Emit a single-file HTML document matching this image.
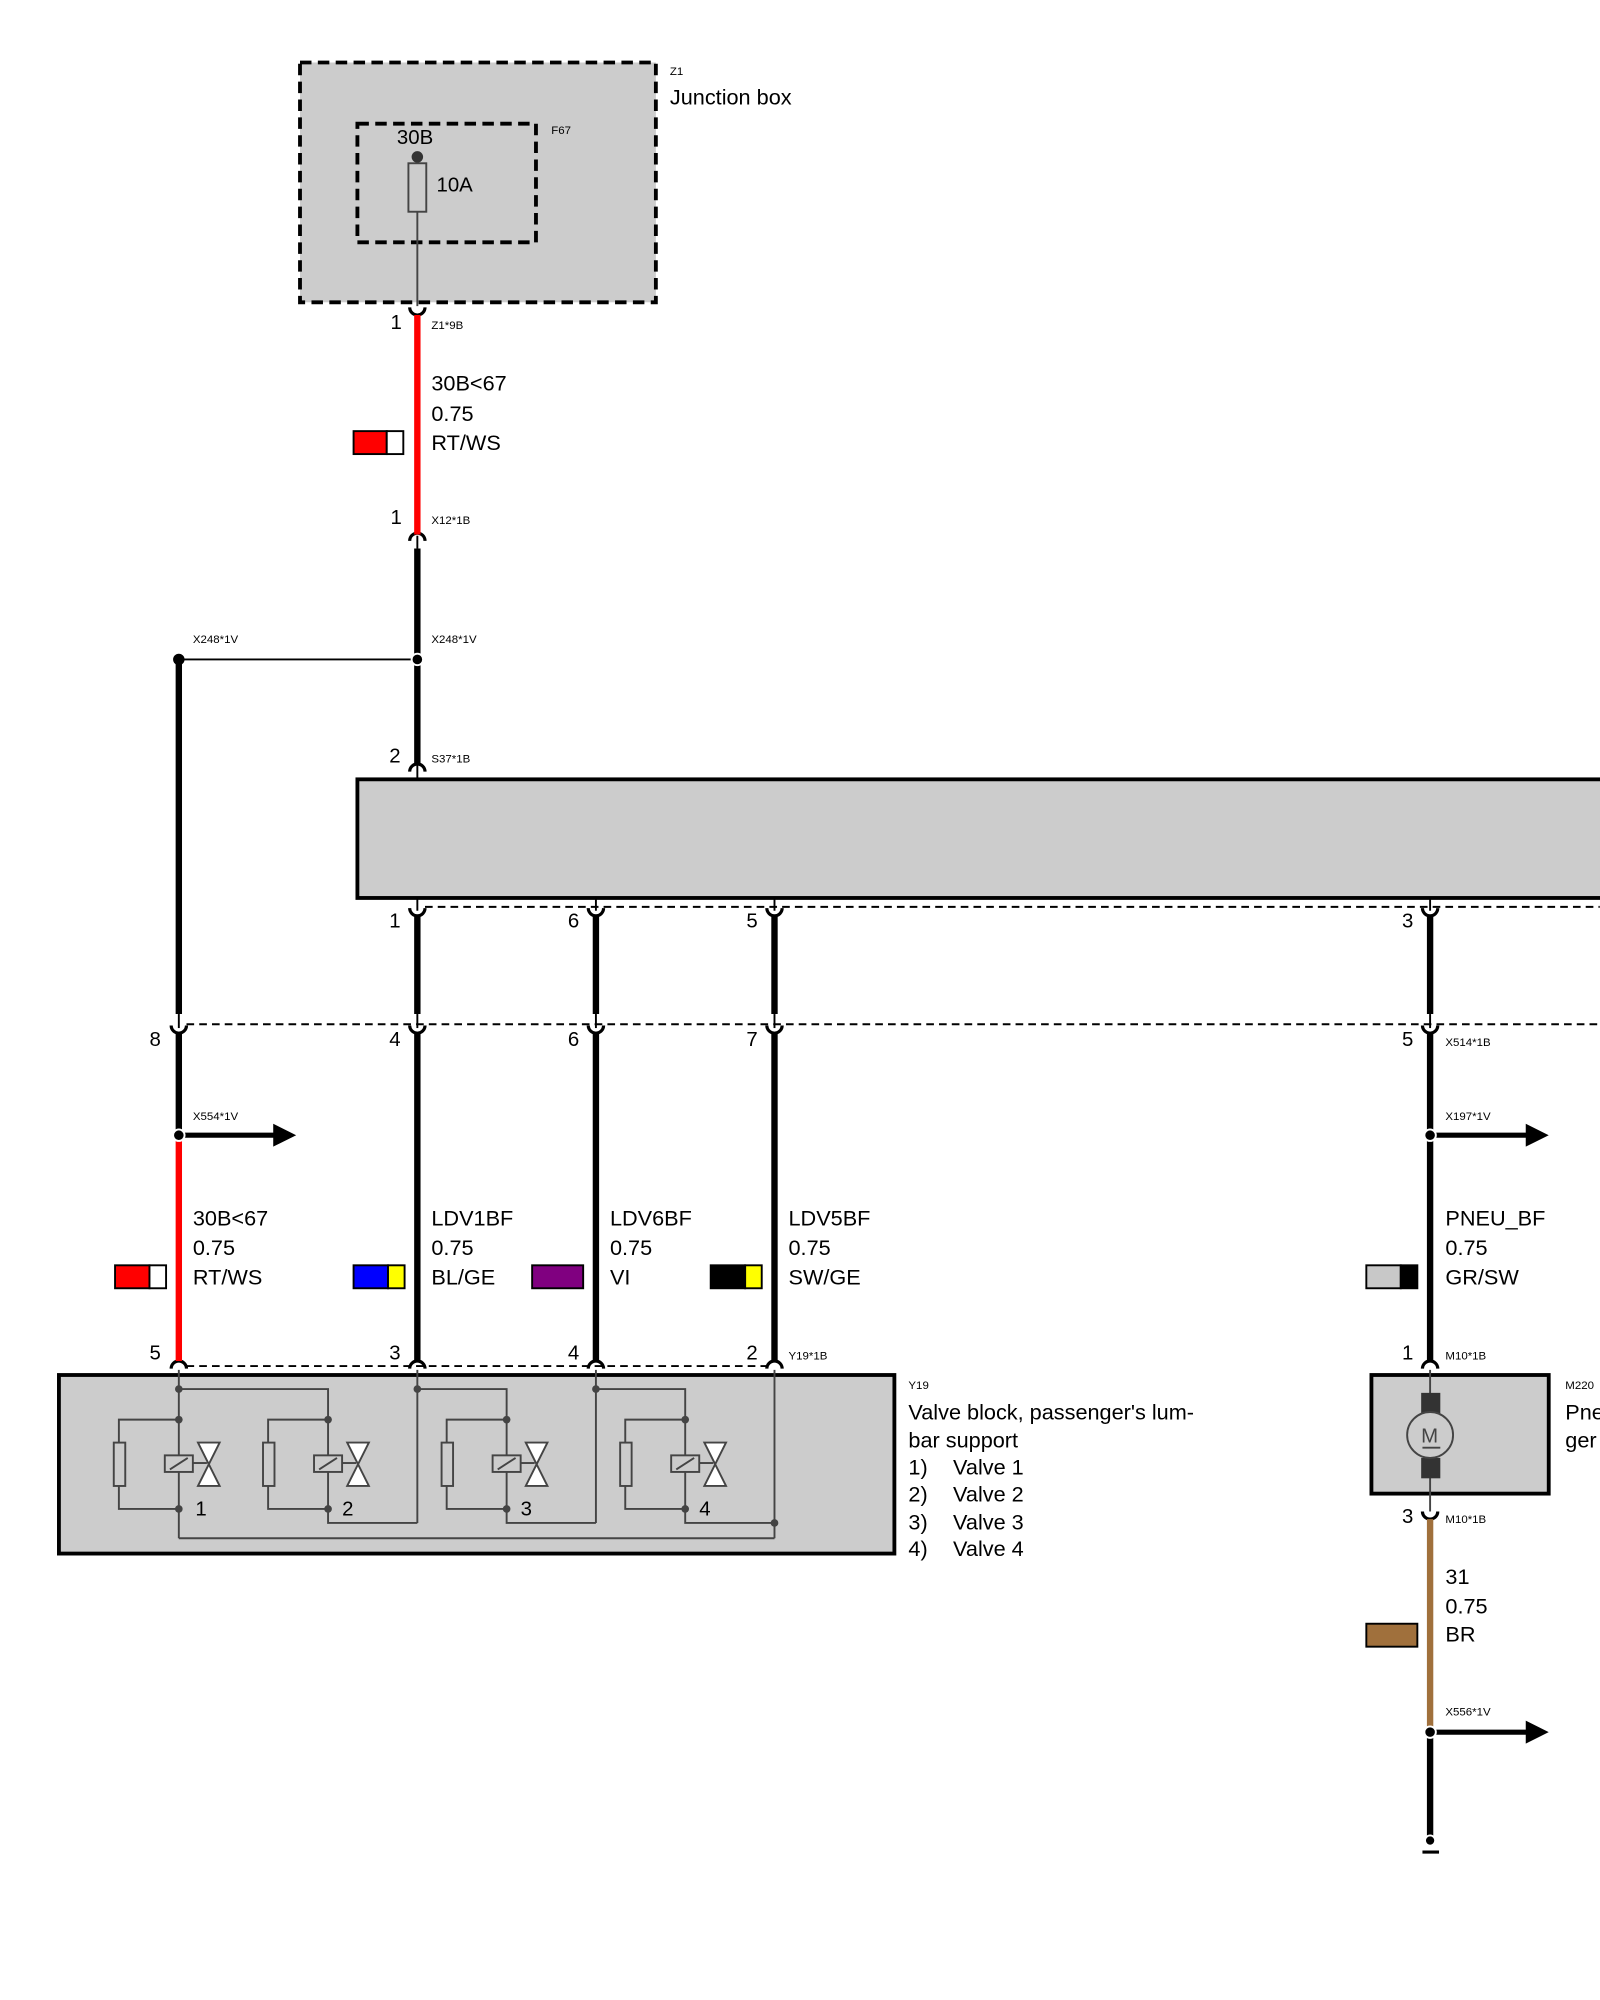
<!DOCTYPE html>
<html><head><meta charset="utf-8"><style>
html,body{margin:0;padding:0;background:#fff}
svg{display:block}
text{font-family:"Liberation Sans",sans-serif;fill:#000}
.s{font-size:9px}.m{font-size:17px}.p{font-size:16px}
</style></head><body>
<svg width="1600" height="2000" viewBox="0 0 1254 1568" xmlns="http://www.w3.org/2000/svg">
<!-- Junction box -->
<rect x="235" y="49" width="279" height="188" fill="#ccc" stroke="#000" stroke-width="3" stroke-dasharray="9,5"/>
<rect x="280" y="97" width="140" height="93" fill="none" stroke="#000" stroke-width="3" stroke-dasharray="9,5"/>
<text class="s" x="525" y="59">Z1</text>
<text class="m" x="525" y="82">Junction box</text>
<text class="s" x="432" y="105">F67</text>
<text class="p" x="311" y="113">30B</text>
<line x1="327" y1="123" x2="327" y2="240" stroke="#444" stroke-width="1.5"/>
<circle cx="327" cy="123" r="4.5" fill="#333"/>
<rect x="320" y="128" width="14" height="38" fill="#ccc" stroke="#444" stroke-width="1.5"/>
<text class="p" x="342" y="150">10A</text>

<!-- thin stubs through connectors -->
<g stroke="#000" stroke-width="1.5">
<line x1="327" y1="420" x2="327" y2="430"/>
<line x1="327" y1="600" x2="327" y2="611"/>
<line x1="327" y1="704" x2="327" y2="714"/><line x1="467" y1="704" x2="467" y2="714"/>
<line x1="607" y1="704" x2="607" y2="714"/><line x1="1121" y1="704" x2="1121" y2="714"/>
<line x1="140" y1="795" x2="140" y2="806"/><line x1="327" y1="795" x2="327" y2="806"/>
<line x1="467" y1="795" x2="467" y2="806"/><line x1="607" y1="795" x2="607" y2="806"/>
<line x1="1121" y1="795" x2="1121" y2="806"/>
</g>
<g fill="none" stroke="#000" stroke-width="2.5">
<!-- U cups (lower wire start) -->
<path d="M321,241 A6,6 0 0 0 333,241"/>
<path d="M321,712 A6,6 0 0 0 333,712"/>
<path d="M461,712 A6,6 0 0 0 473,712"/>
<path d="M601,712 A6,6 0 0 0 613,712"/>
<path d="M1115,712 A6,6 0 0 0 1127,712"/>
<path d="M134,804 A6,6 0 0 0 146,804"/>
<path d="M321,804 A6,6 0 0 0 333,804"/>
<path d="M461,804 A6,6 0 0 0 473,804"/>
<path d="M601,804 A6,6 0 0 0 613,804"/>
<path d="M1115,804 A6,6 0 0 0 1127,804"/>
<path d="M1115,1185 A6,6 0 0 0 1127,1185"/>
<!-- caps (upper wire end) -->
<path d="M321,424 A6,6 0 0 1 333,424"/>
<path d="M321,605 A6,6 0 0 1 333,605"/>
<path d="M134,1073 A6,6 0 0 1 146,1073"/>
<path d="M321,1073 A6,6 0 0 1 333,1073"/>
<path d="M461,1073 A6,6 0 0 1 473,1073"/>
<path d="M601,1073 A6,6 0 0 1 613,1073"/>
<path d="M1115,1073 A6,6 0 0 1 1127,1073"/>
</g>

<!-- wires -->
<line x1="327" y1="247" x2="327" y2="419" stroke="#f00" stroke-width="5"/>
<line x1="327" y1="430" x2="327" y2="599" stroke="#000" stroke-width="5"/>
<line x1="140" y1="517" x2="327" y2="517" stroke="#000" stroke-width="1.5"/>
<line x1="140" y1="517" x2="140" y2="795" stroke="#000" stroke-width="5"/>
<circle cx="327" cy="517" r="4.5" fill="#000" stroke="#fff" stroke-width="1.5"/>
<circle cx="140" cy="517" r="4.5" fill="#000"/>
<text class="p" x="306" y="258">1</text><text class="s" x="338" y="258">Z1*9B</text>
<text class="m" x="338" y="306">30B&lt;67</text><text class="m" x="338" y="330">0.75</text><text class="m" x="338" y="353">RT/WS</text>
<rect x="277" y="338" width="26" height="18" fill="#f00" stroke="#000" stroke-width="1.5"/><rect x="303" y="338" width="13" height="18" fill="#fff" stroke="#000" stroke-width="1.5"/>
<text class="p" x="306" y="411">1</text><text class="s" x="338" y="411">X12*1B</text>
<text class="s" x="151" y="504">X248*1V</text><text class="s" x="338" y="504">X248*1V</text>
<text class="p" x="305" y="598">2</text><text class="s" x="338" y="598">S37*1B</text>

<rect x="280" y="611" width="990" height="93" fill="#ccc" stroke="#000" stroke-width="3"/>
<line x1="333" y1="711" x2="1254" y2="711" stroke="#000" stroke-width="1.5" stroke-dasharray="6,4"/>
<line x1="146" y1="803" x2="1254" y2="803" stroke="#000" stroke-width="1.5" stroke-dasharray="6,4"/>
<line x1="146" y1="1071" x2="601" y2="1071" stroke="#000" stroke-width="1.5" stroke-dasharray="6,4"/>
<g stroke="#000" stroke-width="5">
<line x1="327" y1="718" x2="327" y2="795"/><line x1="467" y1="718" x2="467" y2="795"/>
<line x1="607" y1="718" x2="607" y2="795"/><line x1="1121" y1="718" x2="1121" y2="795"/>
<line x1="140" y1="810" x2="140" y2="890"/>
<line x1="327" y1="810" x2="327" y2="1067"/><line x1="467" y1="810" x2="467" y2="1067"/>
<line x1="607" y1="810" x2="607" y2="1067"/><line x1="1121" y1="810" x2="1121" y2="1067"/>
</g>
<line x1="140" y1="890" x2="140" y2="1067" stroke="#f00" stroke-width="5"/>
<text class="p" x="305" y="727">1</text><text class="p" x="445" y="727">6</text><text class="p" x="585" y="727">5</text><text class="p" x="1099" y="727">3</text>
<text class="p" x="117" y="820">8</text><text class="p" x="305" y="820">4</text><text class="p" x="445" y="820">6</text><text class="p" x="585" y="820">7</text><text class="p" x="1099" y="820">5</text>
<text class="s" x="1133" y="820">X514*1B</text>

<!-- arrows -->
<g>
<line x1="140" y1="890" x2="216" y2="890" stroke="#000" stroke-width="4"/><polygon points="214,881 232,890 214,899" fill="#000"/>
<circle cx="140" cy="890" r="4.5" fill="#000" stroke="#fff" stroke-width="1.5"/>
<line x1="1121" y1="890" x2="1198" y2="890" stroke="#000" stroke-width="4"/><polygon points="1196,881 1214,890 1196,899" fill="#000"/>
<circle cx="1121" cy="890" r="4.5" fill="#000" stroke="#fff" stroke-width="1.5"/>
</g>
<text class="s" x="151" y="878">X554*1V</text><text class="s" x="1133" y="878">X197*1V</text>

<text class="m" x="151" y="961">30B&lt;67</text><text class="m" x="151" y="984">0.75</text><text class="m" x="151" y="1007">RT/WS</text>
<text class="m" x="338" y="961">LDV1BF</text><text class="m" x="338" y="984">0.75</text><text class="m" x="338" y="1007">BL/GE</text>
<text class="m" x="478" y="961">LDV6BF</text><text class="m" x="478" y="984">0.75</text><text class="m" x="478" y="1007">VI</text>
<text class="m" x="618" y="961">LDV5BF</text><text class="m" x="618" y="984">0.75</text><text class="m" x="618" y="1007">SW/GE</text>
<text class="m" x="1133" y="961">PNEU_BF</text><text class="m" x="1133" y="984">0.75</text><text class="m" x="1133" y="1007">GR/SW</text>
<g stroke="#000" stroke-width="1.5">
<rect x="90" y="992" width="27" height="18" fill="#f00"/><rect x="117" y="992" width="13" height="18" fill="#fff"/>
<rect x="277" y="992" width="27" height="18" fill="#00f"/><rect x="304" y="992" width="13" height="18" fill="#ff0"/>
<rect x="417" y="992" width="40" height="18" fill="#800080"/>
<rect x="557" y="992" width="27" height="18" fill="#000"/><rect x="584" y="992" width="13" height="18" fill="#ff0"/>
<rect x="1071" y="992" width="27" height="18" fill="#c8c8c8"/><rect x="1098" y="992" width="13" height="18" fill="#000"/>
</g>
<text class="p" x="117" y="1066">5</text><text class="p" x="305" y="1066">3</text><text class="p" x="445" y="1066">4</text><text class="p" x="585" y="1066">2</text>
<text class="s" x="618" y="1066">Y19*1B</text>
<text class="p" x="1099" y="1066">1</text><text class="s" x="1133" y="1066">M10*1B</text>

<!-- valve block -->
<rect x="46" y="1078" width="655" height="140" fill="#ccc" stroke="#000" stroke-width="3"/>
<g fill="none" stroke="#444" stroke-width="1.5">
<line x1="140" y1="1074" x2="140" y2="1206"/>
<line x1="327" y1="1074" x2="327" y2="1194"/>
<line x1="467" y1="1074" x2="467" y2="1194"/>
<line x1="607" y1="1074" x2="607" y2="1206"/>
<line x1="140" y1="1206" x2="607" y2="1206"/>
<polyline points="140,1089 257,1089 257,1194 327,1194"/>
<polyline points="327,1089 397,1089 397,1194 467,1194"/>
<polyline points="467,1089 537,1089 537,1194 607,1194"/>
</g>
<g id="v1" fill="none" stroke="#444" stroke-width="1.5">
<polyline points="140,1113 93,1113 93,1183 140,1183"/>
<rect x="89" y="1131" width="9" height="34" fill="#ccc"/>
<rect x="129" y="1141" width="22" height="13" fill="#ccc"/>
<line x1="133" y1="1152" x2="147" y2="1143"/>
<line x1="151" y1="1147" x2="162" y2="1147"/>
<polygon points="155,1131 172,1131 155,1165 172,1165" fill="#fff"/>
</g>
<use href="#v1" x="117"/><use href="#v1" x="257"/><use href="#v1" x="397"/>
<g fill="#444">
<circle cx="140" cy="1089" r="3"/><circle cx="327" cy="1089" r="3"/><circle cx="467" cy="1089" r="3"/>
<circle cx="140" cy="1113" r="3"/><circle cx="257" cy="1113" r="3"/><circle cx="397" cy="1113" r="3"/><circle cx="537" cy="1113" r="3"/>
<circle cx="140" cy="1183" r="3"/><circle cx="257" cy="1183" r="3"/><circle cx="397" cy="1183" r="3"/><circle cx="537" cy="1183" r="3"/>
<circle cx="607" cy="1194" r="3"/>
</g>
<text class="p" x="153" y="1188">1</text><text class="p" x="268" y="1188">2</text><text class="p" x="408" y="1188">3</text><text class="p" x="548" y="1188">4</text>
<text class="s" x="712" y="1089">Y19</text>
<text class="m" x="712" y="1113">Valve block, passenger's lum-</text>
<text class="m" x="712" y="1135">bar support</text>
<text class="m" x="712" y="1156">1)</text><text class="m" x="747" y="1156">Valve 1</text>
<text class="m" x="712" y="1177">2)</text><text class="m" x="747" y="1177">Valve 2</text>
<text class="m" x="712" y="1199">3)</text><text class="m" x="747" y="1199">Valve 3</text>
<text class="m" x="712" y="1220">4)</text><text class="m" x="747" y="1220">Valve 4</text>

<!-- motor -->
<rect x="1075" y="1078" width="139" height="93" fill="#ccc" stroke="#000" stroke-width="3"/>
<line x1="1121" y1="1074" x2="1121" y2="1185" stroke="#444" stroke-width="1.5"/>
<rect x="1114" y="1092" width="15" height="16" fill="#333"/>
<rect x="1114" y="1143" width="15" height="16" fill="#333"/>
<circle cx="1121" cy="1125" r="18" fill="#ccc" stroke="#444" stroke-width="1.5"/>
<text x="1114" y="1131" style="font-size:16px;fill:#444">M</text>
<line x1="1115" y1="1135" x2="1129" y2="1135" stroke="#444" stroke-width="1.5"/>
<text class="s" x="1227" y="1089">M220</text>
<text class="m" x="1227" y="1113">Pne</text><text class="m" x="1227" y="1135">ger</text>
<text class="p" x="1099" y="1194">3</text><text class="s" x="1133" y="1194">M10*1B</text>
<line x1="1121" y1="1191" x2="1121" y2="1358" stroke="#a0703c" stroke-width="5"/>
<text class="m" x="1133" y="1242">31</text><text class="m" x="1133" y="1265">0.75</text><text class="m" x="1133" y="1287">BR</text>
<rect x="1071" y="1273" width="40" height="18" fill="#a0703c" stroke="#000" stroke-width="1.5"/>
<text class="s" x="1133" y="1345">X556*1V</text>
<line x1="1121" y1="1358" x2="1121" y2="1443" stroke="#000" stroke-width="5"/>
<line x1="1121" y1="1358" x2="1198" y2="1358" stroke="#000" stroke-width="4"/><polygon points="1196,1349 1214,1358 1196,1367" fill="#000"/>
<circle cx="1121" cy="1358" r="4.5" fill="#000" stroke="#fff" stroke-width="1.5"/>
<circle cx="1121" cy="1443" r="4" fill="#000" stroke="#fff" stroke-width="1.5"/>
<line x1="1115" y1="1452" x2="1128" y2="1452" stroke="#000" stroke-width="2.5"/>
</svg>
</body></html>
